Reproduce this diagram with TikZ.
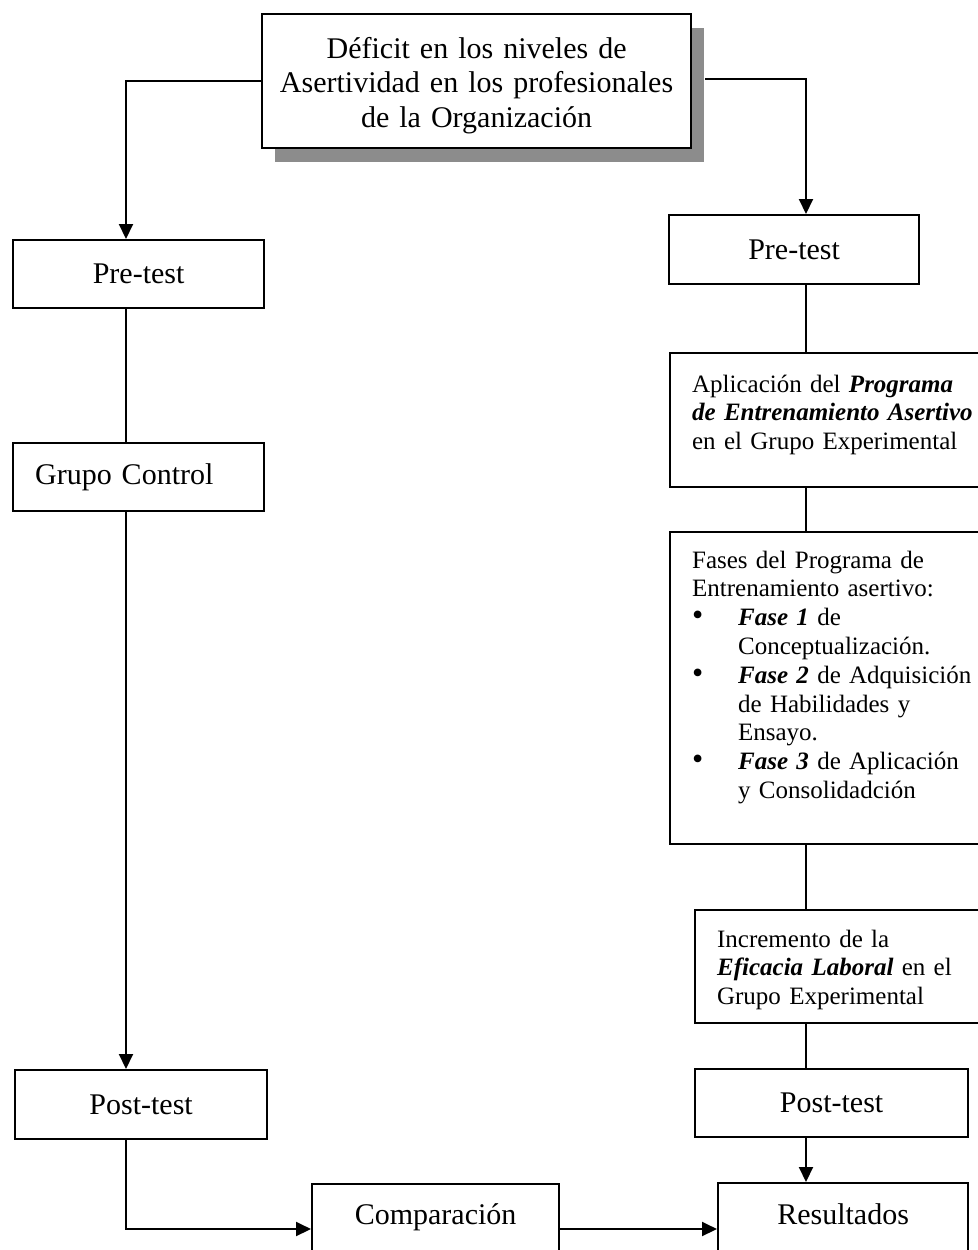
\documentclass[tikz,border=0pt]{standalone}
\usepackage{fontspec}
\setmainfont{Liberation Serif}
\usetikzlibrary{arrows.meta,shadows}

\newcommand{\bigdot}{\makebox[23pt][l]{\smash{\fontsize{16}{14.4}\selectfont\textbullet}}}

\tikzset{
  box/.style={draw, line width=1.1pt, anchor=north west, inner xsep=11pt, inner ysep=0pt,
    font=\fontsize{15}{17.25}\selectfont},
  small/.style={font=\fontsize{12.5}{14.4}\selectfont, align=left},
  link/.style={line width=1pt},
  arr/.style={link, -{Triangle[width=7pt,length=7.5pt]}}
}

\begin{document}
\begin{tikzpicture}[x=0.5pt, y=-0.5pt]
  % Page size, and cut off what runs over the edge
  \useasboundingbox (0,0) rectangle (978,1250);
  \clip (0,0) rectangle (978,1250);

  % Top box with its shadow
  \node[box, fill=white, inner xsep=0pt, text width=214.5pt, align=center,
        text height=22pt, text depth=45pt,
        drop shadow={shadow xshift=6.5pt, shadow yshift=-7pt, fill=black!45, opacity=1}]
        (deficit) at (261,13) {Déficit en los niveles de\\Asertividad en los profesionales\\de la Organización};

  % Left column (control group)
  \node[box, minimum width=125.5pt, minimum height=34pt] (pre1) at (12,239) {Pre-test};
  \node[box, text width=103.5pt, align=left, minimum height=34pt] (ctrl) at (12,442) {Grupo Control};
  \node[box, minimum width=126pt, minimum height=34.5pt] (post1) at (14,1069) {Post-test};

  % Right column (experimental group)
  \node[box, minimum width=125pt, minimum height=34.5pt] (pre2) at (668,214) {Pre-test};
  \node[box, small, text width=150pt, text height=19.5pt, text depth=47.5pt] (aplic) at (669,352)
    {Aplicación del \textbf{\textit{Programa}}\\
     \textbf{\textit{de Entrenamiento Asertivo}}\\
     en el Grupo Experimental};
  \node[box, small, text width=150pt, text height=18pt, text depth=138pt] (fases) at (669,531)
    {Fases del Programa de\\
     Entrenamiento asertivo:\\
     \bigdot\textbf{\textit{Fase 1}} de\\
     \hspace*{23pt}Conceptualización.\\
     \bigdot\textbf{\textit{Fase 2}} de Adquisición\\
     \hspace*{23pt}de Habilidades y\\
     \hspace*{23pt}Ensayo.\\
     \bigdot\textbf{\textit{Fase 3}} de Aplicación\\
     \hspace*{23pt}y Consolidadción};
  \node[box, small, text width=140pt, text height=18.5pt, text depth=38pt] (incr) at (694,909)
    {Incremento de la\\
     \textbf{\textit{Eficacia Laboral}} en el\\
     Grupo Experimental};
  \node[box, minimum width=136.5pt, minimum height=34pt] (post2) at (694,1068) {Post-test};

  % Bottom row
  \node[box, inner xsep=0pt, text width=123.5pt, align=center, text height=20pt, text depth=40pt]
    (comp) at (311,1183) {Comparación};
  \node[box, inner xsep=0pt, text width=125pt, align=center, text height=20.5pt, text depth=40pt]
    (result) at (717,1182) {Resultados};

  % Where the connectors run
  \coordinate (lx) at (126,0);
  \coordinate (rx) at (806,0);
  \coordinate (by) at (0,1229);

  % Left connectors
  \draw[arr] (deficit.west) -| (lx |- pre1.north);
  \draw[link] (lx |- pre1.south) -- (lx |- ctrl.north);
  \draw[arr] (lx |- ctrl.south) -- (lx |- post1.north);
  \draw[arr] (lx |- post1.south) |- (comp.west |- by);
  \draw[arr] (comp.east |- by) -- (result.west |- by);

  % Right connectors
  \draw[arr] ([xshift=6.5pt,yshift=1pt]deficit.east) -| (rx |- pre2.north);
  \draw[link] (rx |- pre2.south) -- (rx |- aplic.north);
  \draw[link] (rx |- aplic.south) -- (rx |- fases.north);
  \draw[link] (rx |- fases.south) -- (rx |- incr.north);
  \draw[link] (rx |- incr.south) -- (rx |- post2.north);
  \draw[arr] (rx |- post2.south) -- (rx |- result.north);
\end{tikzpicture}
\end{document}
